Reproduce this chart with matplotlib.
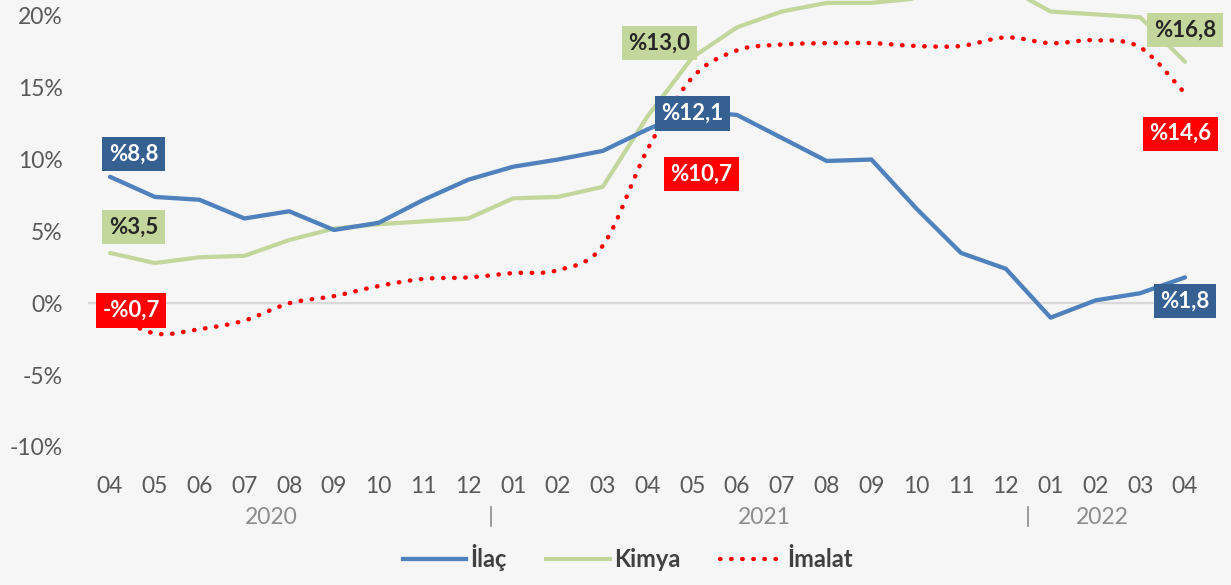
import numpy as np
import matplotlib
matplotlib.use('Agg')
import matplotlib.pyplot as plt
from matplotlib.path import Path
from matplotlib.patches import PathPatch
from matplotlib.lines import Line2D
import matplotlib.transforms as mtransforms

plt.rcParams['font.family'] = ['Lato', 'DejaVu Sans']

# monthly data, 2020-04 .. 2022-04
months = ['04', '05', '06', '07', '08', '09', '10', '11', '12',
          '01', '02', '03', '04', '05', '06', '07', '08', '09', '10', '11', '12',
          '01', '02', '03', '04']
years = ['2020', '2021', '2022']

ilac = [8.8, 7.4, 7.2, 5.9, 6.4, 5.1, 5.6, 7.2, 8.6, 9.5, 10.0, 10.6, 12.1,
        13.4, 13.1, 11.5, 9.9, 10.0, 6.6, 3.5, 2.4, -1.0, 0.2, 0.7, 1.8]
kimya = [3.5, 2.8, 3.2, 3.3, 4.4, 5.2, 5.5, 5.7, 5.9, 7.3, 7.4, 8.1, 13.0,
         17.1, 19.2, 20.3, 20.9, 20.9, 21.2, 21.4, 22.0, 20.3, 20.1, 19.9, 16.8]
imalat = [-0.7, -2.1, -1.8, -1.2, 0.0, 0.5, 1.2, 1.7, 1.8, 2.1, 2.3, 4.0, 10.7,
          15.7, 17.6, 18.0, 18.1, 18.1, 17.9, 17.9, 18.5, 18.1, 18.3, 17.8, 14.6]

labels_idx = [0, 12, 24]

BG = '#f6f6f6'
C_ILAC = '#4f81bd'
C_ILAC_BOX = '#376092'
C_KIMYA = '#c3d69b'
C_IMALAT = '#ff0000'
DOTS = (0, (0.1, 2.4))


def fmt(v):
    s = '%' + ('%.1f' % abs(v)).replace('.', ',')
    return '-' + s if v < 0 else s


def smooth_path(xs, ys):
    # catmull-rom -> bezier, like excel's smoothed line
    pts = np.column_stack([xs, ys]).astype(float)
    n = len(pts)
    verts = [pts[0]]
    codes = [Path.MOVETO]
    for i in range(n - 1):
        p0 = pts[max(i - 1, 0)]
        p1 = pts[i]
        p2 = pts[i + 1]
        p3 = pts[min(i + 2, n - 1)]
        verts += [p1 + (p2 - p0) / 6, p2 - (p3 - p1) / 6, p2]
        codes += [Path.CURVE4] * 3
    return Path(verts, codes)


fig = plt.figure(figsize=(12.31, 5.85), dpi=100, facecolor=BG)
ax = fig.add_axes([87.6 / 1231, 138 / 585, 1119.8 / 1231, 447 / 585])
ax.set_facecolor(BG)

x = np.arange(len(months))

ax.axhline(0, color='#d9d9d9', lw=1.6, zorder=1)
ax.plot(x, kimya, color=C_KIMYA, lw=3, solid_capstyle='round', zorder=3)
ax.plot(x, ilac, color=C_ILAC, lw=3.1, solid_capstyle='round', zorder=4)
red = PathPatch(smooth_path(x, imalat), fill=False, edgecolor=C_IMALAT,
                lw=3.2, linestyle=DOTS, capstyle='round', zorder=5)
ax.add_patch(red)

ax.set_xlim(-0.5, 24.5)
ax.set_ylim(-10, 21.1)
for s in ax.spines.values():
    s.set_visible(False)

ax.set_yticks([-10, -5, 0, 5, 10, 15, 20])
ax.set_yticklabels(['%d%%' % v for v in [-10, -5, 0, 5, 10, 15, 20]])
ax.set_xticks(x)
ax.set_xticklabels(months)
ax.tick_params(axis='x', length=0, pad=21, labelsize=16.5, labelcolor='#595959')
ax.tick_params(axis='y', length=0, pad=18, labelsize=16.5, labelcolor='#595959')

# year row + separators
blend = mtransforms.blended_transform_factory(ax.transData, fig.transFigure)
for yr, xp in zip(years, [3.6, 14.6, 22.15]):
    ax.text(xp, 68 / 585, yr, transform=blend, ha='center', va='center',
            fontsize=16.5, color='#8c8c8c')
for xp in [8.5, 20.5]:
    ax.plot([xp, xp], [59 / 585, 78 / 585], transform=blend, color='#8c8c8c',
            lw=1.2, clip_on=False)

# data label boxes
box_pos = {
    'ilac': [(0.53, 10.4), (13.0, 13.2), (24.0, 0.15)],
    'kimya': [(0.53, 5.3), (12.27, 18.1), (24.0, 19.0)],
    'imalat': [(0.47, -0.5), (13.2, 9.0), (23.9, 11.8)],
}
styles = {
    'ilac': (ilac, C_ILAC_BOX, 'white'),
    'kimya': (kimya, C_KIMYA, '#262626'),
    'imalat': (imalat, C_IMALAT, 'white'),
}
for key, (vals, fc, tc) in styles.items():
    for i, (bx, by) in zip(labels_idx, box_pos[key]):
        ax.text(bx, by, fmt(vals[i]), ha='center', va='center', fontsize=16,
                fontweight='bold', color=tc, zorder=10, clip_on=False,
                bbox=dict(boxstyle='square,pad=0.3', fc=fc, ec='none'))

handles = [
    Line2D([], [], color=C_ILAC, lw=3.1),
    Line2D([], [], color=C_KIMYA, lw=3),
    Line2D([], [], color=C_IMALAT, lw=3.2, linestyle=DOTS,
           dash_capstyle='round'),
]
leg = fig.legend(handles, ['İlaç', 'Kimya', 'İmalat'], loc='lower center',
                 bbox_to_anchor=(0.51, 0.0), ncol=3, frameon=False,
                 handlelength=2.7, handletextpad=0.15, columnspacing=1.7,
                 borderaxespad=0.2, prop={'size': 17, 'weight': 'bold'})
for t in leg.get_texts():
    t.set_color('#404040')

fig.savefig('out.png', dpi=100, facecolor=BG)
